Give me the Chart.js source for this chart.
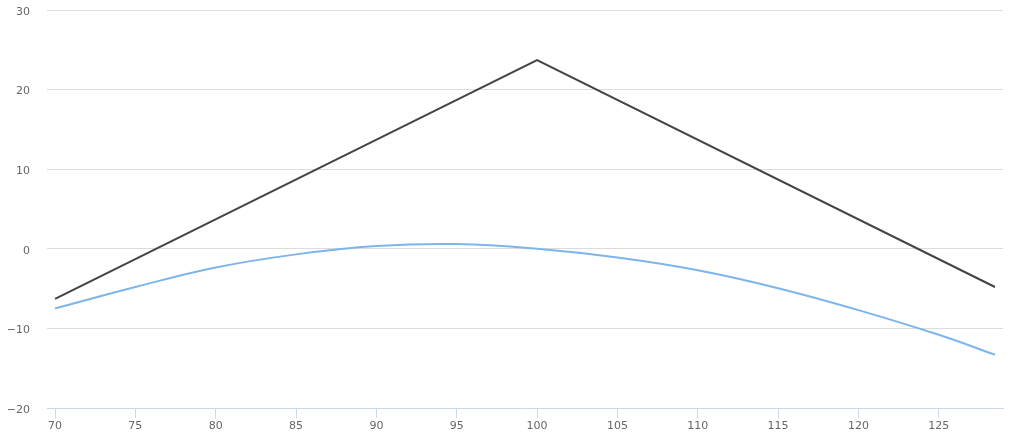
<!DOCTYPE html>
<html>
<head>
<meta charset="utf-8">
<script src="https://cdn.jsdelivr.net/npm/chart.js@4"></script>
<style>
  html, body { margin:0; padding:0; background:#fff; }
  #wrap { width:1024px; height:440px; }
</style>
</head>
<body>
<div id="wrap"><canvas id="chart"></canvas></div>
<script>
// --- Data ---
const xTicks = [70, 75, 80, 85, 90, 95, 100, 105, 110, 115, 120, 125];
const yTicks = [-20, -10, 0, 10, 20, 30];

const darkX = [70, 100, 128.5];
const darkY = [-6.3, 23.7, -4.8];

const blueX = [70, 75, 80, 85, 90, 95, 100, 105, 110, 115, 120, 125, 128.5];
const blueY = [-7.5, -4.8, -2.35, -0.7, 0.35, 0.6, 0, -1.1, -2.7, -4.95, -7.7, -10.8, -13.3];

const toPoints = (xs, ys) => xs.map((x, i) => ({x: x, y: ys[i]}));

const tickFont = {family: "'DejaVu Sans', sans-serif", size: 11};

new Chart(document.getElementById('chart').getContext('2d'), {
  type: 'line',
  data: {
    datasets: [
      {
        data: toPoints(darkX, darkY),
        borderColor: '#434348',
        borderWidth: 2,
        pointRadius: 0,
        tension: 0
      },
      {
        data: toPoints(blueX, blueY),
        borderColor: '#7cb5ec',
        borderWidth: 2,
        pointRadius: 0,
        tension: 0.4
      }
    ]
  },
  options: {
    responsive: true,
    maintainAspectRatio: false,
    animation: false,
    layout: {padding: {top: 10, right: 21, bottom: 0, left: 0}},
    plugins: {legend: {display: false}, tooltip: {enabled: false}},
    scales: {
      x: {
        type: 'linear',
        min: 69.5,
        max: 129,
        afterBuildTicks: s => { s.ticks = xTicks.map(v => ({value: v})); },
        afterFit: s => { s.height = 32; s.paddingLeft = 0; s.paddingRight = 0; },
        border: {color: '#ccd6eb', width: 1},
        grid: {drawOnChartArea: false, color: '#ccd6eb', tickLength: 10},
        ticks: {color: '#666666', font: tickFont, padding: 2, maxRotation: 0}
      },
      y: {
        min: -20,
        max: 30,
        afterBuildTicks: s => { s.ticks = yTicks.map(v => ({value: v})); },
        afterFit: s => { s.width = 47; s.paddingTop = 0; s.paddingBottom = 0; },
        border: {display: false},
        grid: {color: '#dcdcdc', drawTicks: false},
        ticks: {
          color: '#666666', font: tickFont, padding: 17, labelOffset: 2,
          callback: v => String(v).replace('-', '\u2212')
        }
      }
    }
  }
});
</script>
</body>
</html>
